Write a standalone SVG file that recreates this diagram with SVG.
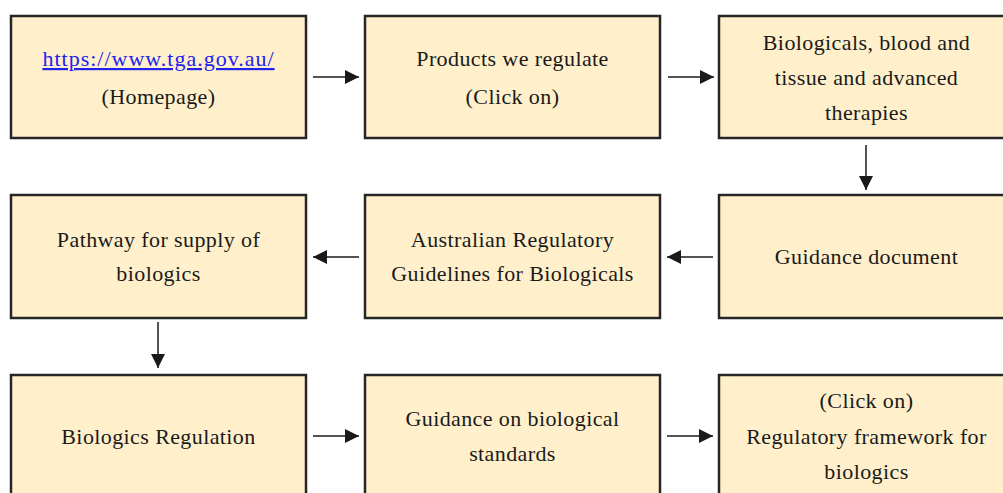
<svg xmlns="http://www.w3.org/2000/svg" width="1003" height="493" viewBox="0 0 1003 493">
<defs>
<marker id="ah" viewBox="0 0 10 10" refX="10" refY="5" markerWidth="14" markerHeight="14" markerUnits="userSpaceOnUse" orient="auto"><path d="M0,0 L10,5 L0,10 z" fill="#1a1a1a"/></marker>
<style>
.box{fill:#fff0cb;stroke:#262626;stroke-width:2.5}
.t{font-family:"Liberation Serif",serif;font-size:22px;letter-spacing:0.4px;fill:#1a1a1a;text-anchor:middle}
.link{fill:#2222ee;text-decoration:underline;letter-spacing:1px}
.c{stroke:#1a1a1a;stroke-width:1.5;fill:none;marker-end:url(#ah)}
</style>
</defs>
<rect width="1003" height="493" fill="#fff"/>
<g id="n1"><rect class="box" x="11" y="16" width="295" height="122"/><text class="t" x="158.5" y="66"><tspan class="link">https://www.tga.gov.au/</tspan></text><text class="t" x="158.5" y="104">(Homepage)</text></g>
<g id="n2"><rect class="box" x="365" y="16" width="295" height="122"/><text class="t" x="512.5" y="66">Products we regulate</text><text class="t" x="512.5" y="104">(Click on)</text></g>
<g id="n3"><rect class="box" x="719" y="16" width="295" height="122"/><text class="t" x="866.5" y="50">Biologicals, blood and</text><text class="t" x="866.5" y="85">tissue and advanced</text><text class="t" x="866.5" y="120">therapies</text></g>
<g id="n4"><rect class="box" x="719" y="195" width="295" height="123"/><text class="t" x="866.5" y="264">Guidance document</text></g>
<g id="n5"><rect class="box" x="365" y="195" width="295" height="123"/><text class="t" x="512.5" y="247">Australian Regulatory</text><text class="t" x="512.5" y="281">Guidelines for Biologicals</text></g>
<g id="n6"><rect class="box" x="11" y="195" width="295" height="123"/><text class="t" x="158.5" y="247">Pathway for supply of</text><text class="t" x="158.5" y="281">biologics</text></g>
<g id="n7"><rect class="box" x="11" y="375" width="295" height="130"/><text class="t" x="158.5" y="444">Biologics Regulation</text></g>
<g id="n8"><rect class="box" x="365" y="375" width="295" height="130"/><text class="t" x="512.5" y="426">Guidance on biological</text><text class="t" x="512.5" y="461">standards</text></g>
<g id="n9"><rect class="box" x="719" y="375" width="295" height="130"/><text class="t" x="866.5" y="408">(Click on)</text><text class="t" x="866.5" y="444">Regulatory framework for</text><text class="t" x="866.5" y="479">biologics</text></g>
<g id="connectors">
<line class="c" x1="313" y1="77" x2="359" y2="77"/>
<line class="c" x1="668" y1="77" x2="714" y2="77"/>
<line class="c" x1="866" y1="145" x2="866" y2="190"/>
<line class="c" x1="713" y1="257" x2="667" y2="257"/>
<line class="c" x1="359" y1="257" x2="313" y2="257"/>
<line class="c" x1="158" y1="322" x2="158" y2="368"/>
<line class="c" x1="313" y1="436" x2="359" y2="436"/>
<line class="c" x1="667" y1="436" x2="713" y2="436"/>
</g>
</svg>
